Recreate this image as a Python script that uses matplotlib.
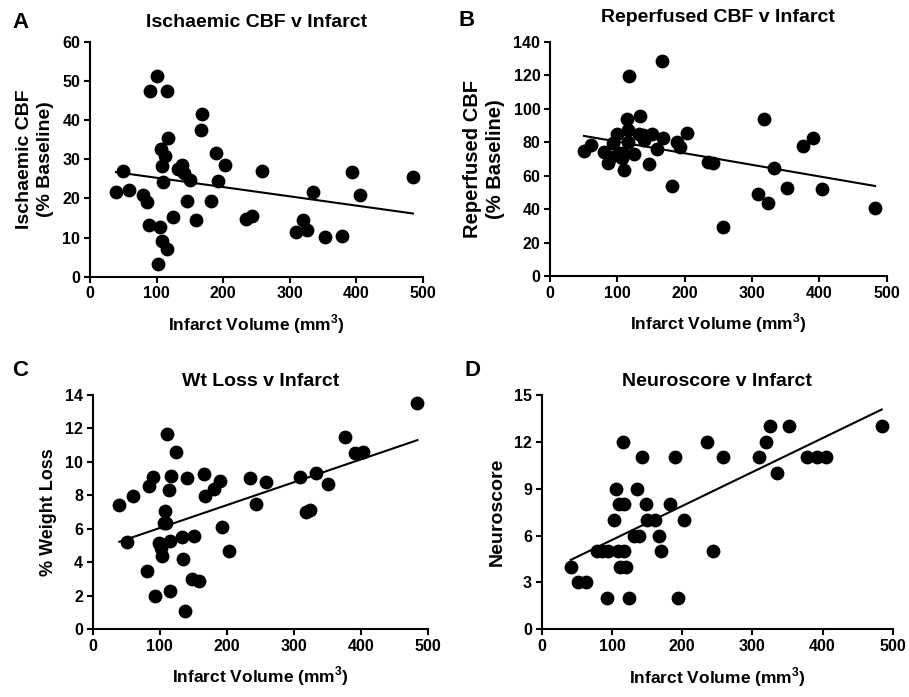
import numpy as np
import matplotlib
matplotlib.use("Agg")
import matplotlib.pyplot as plt

plt.rcParams['font.family'] = ['Liberation Sans', 'DejaVu Sans']
plt.rcParams['font.weight'] = 'bold'
plt.rcParams['mathtext.fontset'] = 'custom'
plt.rcParams['mathtext.rm'] = 'Liberation Sans:bold'
plt.rcParams['mathtext.bf'] = 'Liberation Sans:bold'

# Panel A - ischaemic CBF (% baseline) vs infarct volume (mm3)
a_x = [39, 49, 59, 79, 85, 89, 90.5, 100, 105, 106.5, 107.5, 108.5, 110, 113, 115,
       116, 116.5, 102.5, 124, 131.5, 137.5, 141, 146, 150, 159, 167.5, 166, 181,
       189, 192.5, 202.5, 233.5, 242.5, 258, 310, 320, 326.5, 335, 352.5, 378,
       393.5, 405, 485]
a_y = [21.5, 26.9, 22.2, 20.8, 19.1, 13.1, 47.3, 51.3, 12.8, 32.6, 28.2, 9.2, 24.1,
       30.9, 47.3, 7.1, 35.3, 3.2, 15.2, 27.5, 28.4, 26.5, 19.4, 24.6, 14.5, 41.6,
       37.4, 19.4, 31.6, 24.4, 28.6, 14.8, 15.4, 26.9, 11.5, 14.4, 12.0, 21.5, 10.1,
       10.3, 26.7, 20.9, 25.5]
a_fit = (-0.02368, 27.62)

# Panel B - reperfused CBF (% baseline)
b_x = [50.5, 60.4, 80.2, 85.6, 90.1, 93.1, 100, 103, 106.4, 109, 110, 114.9, 116.3,
       116.3, 117.8, 124.8, 133.7, 132.2, 138.6, 140, 147.5, 151, 158.4, 166.8,
       168.3, 181.7, 189.1, 193, 203, 235.1, 242.6, 257.4, 309.4, 317.8, 324.3,
       333.2, 351.5, 376.2, 391.1, 403.5, 482.7]
b_y = [74.9, 78.3, 74.3, 67.3, 71.3, 79.3, 84.7, 73.3, 70.3, 73.7, 63.3, 93.8, 87.3,
       80.3, 119.7, 72.9, 95.8, 84.7, 84.3, 81.3, 66.7, 84.7, 75.7, 128.7, 82.7,
       54.0, 80.3, 77.3, 85.3, 67.9, 67.3, 29.5, 49.0, 93.6, 43.4, 64.3, 52.4,
       77.7, 82.7, 51.8, 40.4]
b_fit = (-0.0692, 87.19)

# Panel C - % weight loss
c_x = [39.8, 50.7, 59.7, 80.6, 84.6, 90.5, 92.5, 98.5, 103.5, 101.5, 106.5, 108.5,
       109.5, 110.4, 113.9, 115.4, 115.4, 116.9, 124.4, 132.8, 134.3, 137.3, 140.3,
       147.8, 151.2, 159.2, 166.2, 167.2, 181.1, 190, 192.5, 203, 234.8, 243.3,
       258.2, 309.5, 318.4, 324.4, 332.8, 351.2, 377.1, 392, 404, 484.6]
c_y = [7.42, 5.22, 7.96, 3.47, 8.57, 9.07, 1.99, 5.12, 4.39, 4.83, 6.32, 7.06, 6.36,
       11.65, 8.32, 5.28, 2.27, 9.15, 10.6, 5.52, 4.17, 1.10, 9.01, 2.97, 5.56,
       2.89, 9.27, 7.96, 8.35, 8.87, 6.12, 4.67, 9.01, 7.46, 8.81, 9.07, 6.98,
       7.12, 9.31, 8.65, 11.47, 10.55, 10.61, 13.5]
c_fit = (0.01367, 4.676)

# Panel D - neuroscore
d_x = [41.3, 52.2, 63.2, 79.3, 85.5, 92.6, 94, 103, 105.9, 108.3, 110.6, 111.6,
       117.3, 116.3, 117.8, 120, 124.9, 132, 139.1, 135.3, 142.4, 148.6, 150.5,
       161.4, 167.6, 169.5, 182.8, 189.9, 193.7, 203.2, 236, 243.6, 258.8, 310,
       319.6, 325.3, 334.8, 352.8, 377.5, 392.7, 405, 484.3]
d_y = [4, 3, 3, 5, 5, 2, 5, 7, 9, 5, 8, 4, 8, 12, 5, 4, 2, 6, 6, 9, 11, 8, 7, 7, 6,
       5, 8, 11, 2, 7, 12, 5, 11, 11, 12, 13, 10, 13, 11, 11, 11, 13]
d_fit = (0.02174, 3.542)

x_ticks = [0, 100, 200, 300, 400, 500]
x_label = r'Infarct Volume (mm$^\mathbf{3}$)'

# letter, title, ylabel, data, yticks, axes box (px: left, top, right, bottom),
# title pad, ylabel size, letter position (px)
panels = [
    ('A', 'Ischaemic CBF v Infarct', 'Ischaemic CBF\n(% Baseline)', a_x, a_y, a_fit,
     np.arange(0, 61, 10), [90, 41.7, 423, 276.7], 10.5, 14, (12, 22)),
    ('B', 'Reperfused CBF v Infarct', 'Reperfused CBF\n(% Baseline)', b_x, b_y, b_fit,
     np.arange(0, 141, 20), [550, 41.7, 886.7, 276], 14, 14.5, (458, 20)),
    ('C', 'Wt Loss v Infarct', '% Weight Loss', c_x, c_y, c_fit,
     np.arange(0, 15, 2), [92.7, 395, 427.7, 629], 6.5, 13, (12, 370)),
    ('D', 'Neuroscore v Infarct', 'Neuroscore', d_x, d_y, d_fit,
     np.arange(0, 16, 3), [541.7, 395, 892.7, 629.3], 6.5, 14, (465, 370)),
]

W, H = 909, 697
fig = plt.figure(figsize=(W / 100, H / 100), dpi=100)

for letter, title, ylab, xs, ys, fit, yt, box, tpad, ysize, lpos in panels:
    l, t, r, b = box
    ax = fig.add_axes([l / W, 1 - b / H, (r - l) / W, (b - t) / H])
    ax.scatter(xs, ys, s=80, color='black', zorder=3, clip_on=False)
    xx = np.array([min(xs), max(xs)])
    ax.plot(xx, fit[0] * xx + fit[1], color='black', lw=1.5)
    ax.set_xlim(0, 500)
    ax.set_ylim(yt[0], yt[-1])
    ax.set_xticks(x_ticks)
    ax.set_yticks(yt)
    for s in ['top', 'right']:
        ax.spines[s].set_visible(False)
    for s in ['left', 'bottom']:
        ax.spines[s].set_linewidth(1.5)
    ax.tick_params(direction='out', length=4, width=1.5, labelsize=11.5, pad=3)
    ax.set_title(title, fontsize=14, fontweight='bold', pad=tpad)
    ax.set_ylabel(ylab, fontsize=ysize, fontweight='bold', labelpad=6,
                  linespacing=1.3)
    ax.set_xlabel(x_label, fontsize=12.5, fontweight='bold', labelpad=8)
    fig.text(lpos[0] / W, 1 - lpos[1] / H, letter, fontsize=16, fontweight='bold',
             va='center', ha='left')

fig.savefig('out.png', dpi=100)
